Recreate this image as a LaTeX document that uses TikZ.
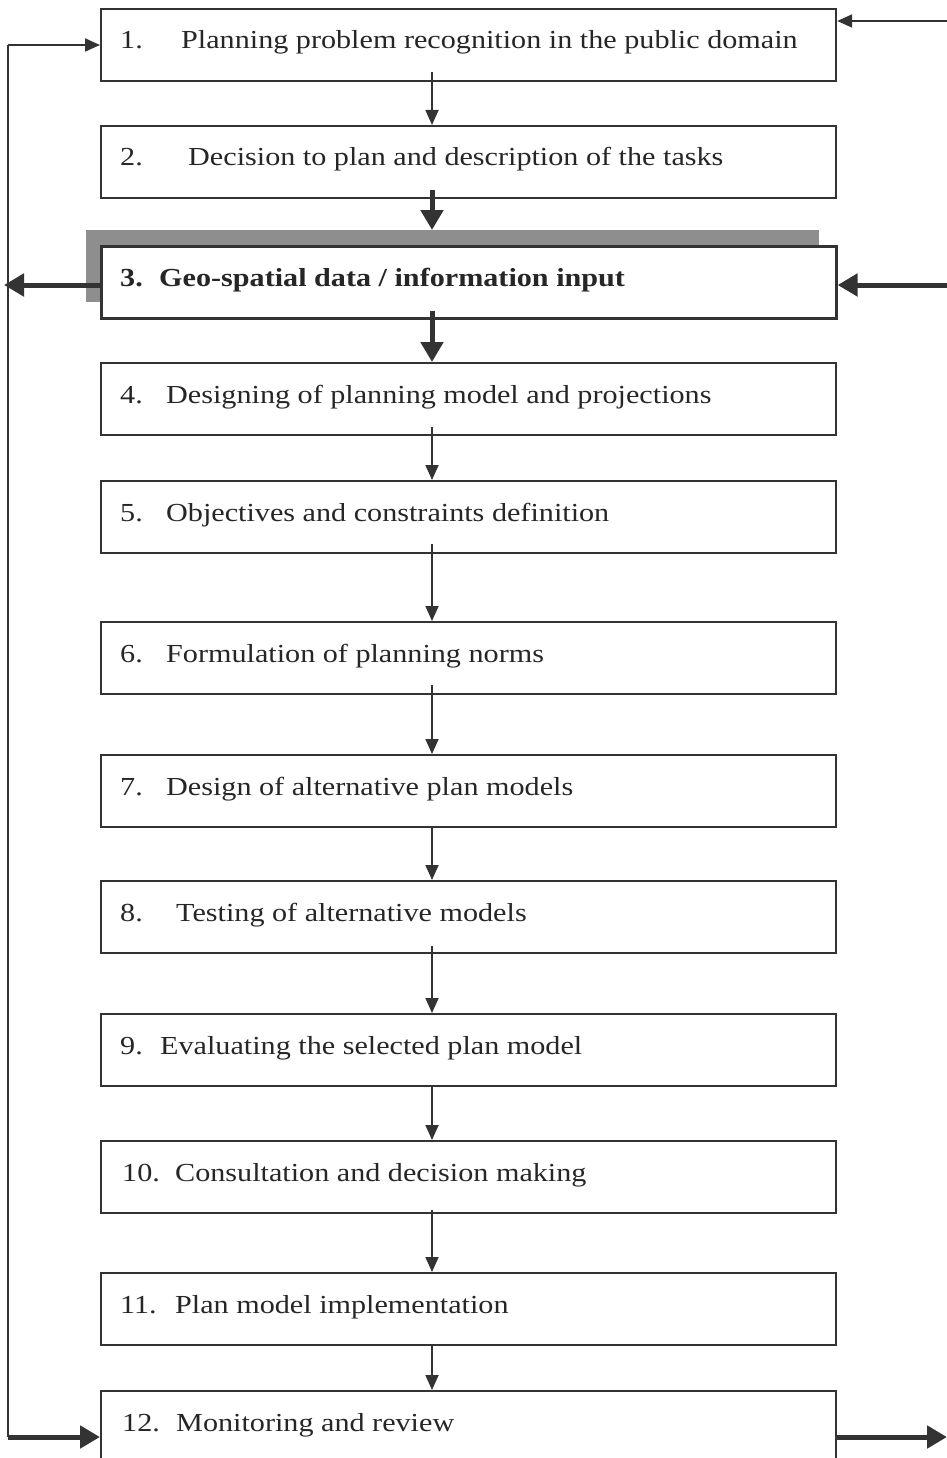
\documentclass[tikz,border=0pt]{standalone}
\usepackage{fontspec}
\setmainfont[FakeStretch=1.16]{Liberation Serif}
\usetikzlibrary{arrows.meta}
\definecolor{ink}{HTML}{333333}
\definecolor{txtc}{HTML}{262626}
\definecolor{shade}{HTML}{8E8E8E}
\tikzset{
 stepbox/.style={draw=ink, line width=2.2pt, fill=white, anchor=north west, minimum width=735pt, minimum height=72pt, inner sep=0pt},
 shadowbox/.style={fill=shade, draw=none, anchor=north west, minimum width=733pt, minimum height=72pt, inner sep=0pt},
 lbl/.style={anchor=base west, inner sep=0pt, text=txtc, font=\fontsize{26}{30}\selectfont},
 thinarr/.style={draw=ink, line width=1.8pt, -{Triangle[width=13pt,length=15pt]}},
 thickarr/.style={draw=ink, line width=5pt, -{Triangle[width=22pt,length=20pt]}},
 loopline/.style={draw=ink, line width=2.5pt},
}
\begin{document}
\begin{tikzpicture}[x=1pt,y=-1pt]
\useasboundingbox (0,0) rectangle (947,1458);
\fill[white] (0,0) rectangle (947,1458);
% shadow of box 3
\node[shadowbox] (s3) at (86,230) {};
% boxes
\node[stepbox] (b1) at (100,8) {};
\node[stepbox] (b2) at (100,125) {};
\node[stepbox, line width=2.6pt] (b3) at (100,245) {};
\node[stepbox] (b4) at (100,362) {};
\node[stepbox] (b5) at (100,480) {};
\node[stepbox] (b6) at (100,621) {};
\node[stepbox] (b7) at (100,754) {};
\node[stepbox] (b8) at (100,880) {};
\node[stepbox] (b9) at (100,1013) {};
\node[stepbox] (b10) at (100,1140) {};
\node[stepbox] (b11) at (100,1272) {};
\node[stepbox] (b12) at (100,1390) {};
% labels
\node[lbl] (n1) at (120,49) {1.};
\node[lbl] (t1) at (181,49) {Planning problem recognition in the public domain};
\node[lbl] (n2) at (120,166) {2.};
\node[lbl] (t2) at (188,166) {Decision to plan and description of the tasks};
\node[lbl, font=\fontsize{26}{30}\selectfont\bfseries] (n3) at (120,286) {3.};
\node[lbl, font=\fontsize{26}{30}\selectfont\bfseries] (t3) at (159,286) {Geo-spatial data / information input};
\node[lbl] (n4) at (120,403) {4.};
\node[lbl] (t4) at (166,403) {Designing of planning model and projections};
\node[lbl] (n5) at (120,521) {5.};
\node[lbl] (t5) at (166,521) {Objectives and constraints definition};
\node[lbl] (n6) at (120,662) {6.};
\node[lbl] (t6) at (166,662) {Formulation of planning norms};
\node[lbl] (n7) at (120,795) {7.};
\node[lbl] (t7) at (166,795) {Design of alternative plan models};
\node[lbl] (n8) at (120,921) {8.};
\node[lbl] (t8) at (176,921) {Testing of alternative models};
\node[lbl] (n9) at (120,1054) {9.};
\node[lbl] (t9) at (160,1054) {Evaluating the selected plan model};
\node[lbl] (n10) at (122,1181) {10.};
\node[lbl] (t10) at (175,1181) {Consultation and decision making};
\node[lbl] (n11) at (120,1313) {11.};
\node[lbl] (t11) at (175,1313) {Plan model implementation};
\node[lbl] (n12) at (122,1431) {12.};
\node[lbl] (t12) at (176,1431) {Monitoring and review};
% vertical connectors
\draw[thinarr] ([xshift=332pt,yshift=10pt]b1.south west) -- ([xshift=332pt]b2.north west);
\draw[thickarr] ([xshift=332pt,yshift=9pt]b2.south west) -- ([xshift=332pt]b2.south west |- s3.north);
\draw[thickarr] ([xshift=332pt,yshift=9pt]b3.south west) -- ([xshift=332pt]b4.north west);
\draw[thinarr] ([xshift=332pt,yshift=9pt]b4.south west) -- ([xshift=332pt]b5.north west);
\draw[thinarr] ([xshift=332pt,yshift=10pt]b5.south west) -- ([xshift=332pt]b6.north west);
\draw[thinarr] ([xshift=332pt,yshift=10pt]b6.south west) -- ([xshift=332pt]b7.north west);
\draw[thinarr] ([xshift=332pt]b7.south west) -- ([xshift=332pt]b8.north west);
\draw[thinarr] ([xshift=332pt,yshift=8pt]b8.south west) -- ([xshift=332pt]b9.north west);
\draw[thinarr] ([xshift=332pt]b9.south west) -- ([xshift=332pt]b10.north west);
\draw[thinarr] ([xshift=332pt,yshift=4pt]b10.south west) -- ([xshift=332pt]b11.north west);
\draw[thinarr] ([xshift=332pt]b11.south west) -- ([xshift=332pt]b12.north west);
% side connectors
\coordinate (L1) at (8,45);
\coordinate (L12) at (8,1437);
\coordinate (L3) at (4,285);
\coordinate (R1) at (947,21);
\coordinate (R3) at (947,285);
\coordinate (R12) at (947,1437);
\draw[loopline] (L1) -- (L12);
\draw[thinarr] (L1) -- (b1.west |- L1);
\draw[thickarr] (L12) -- (b12.west |- L12);
\draw[thickarr] (b3.west |- L3) -- (L3);
\draw[thickarr] (R3) -- (b3.east |- R3);
\draw[thinarr] (R1) -- (b1.east |- R1);
\draw[thickarr] (b12.east |- R12) -- (R12);
\end{tikzpicture}
\end{document}
